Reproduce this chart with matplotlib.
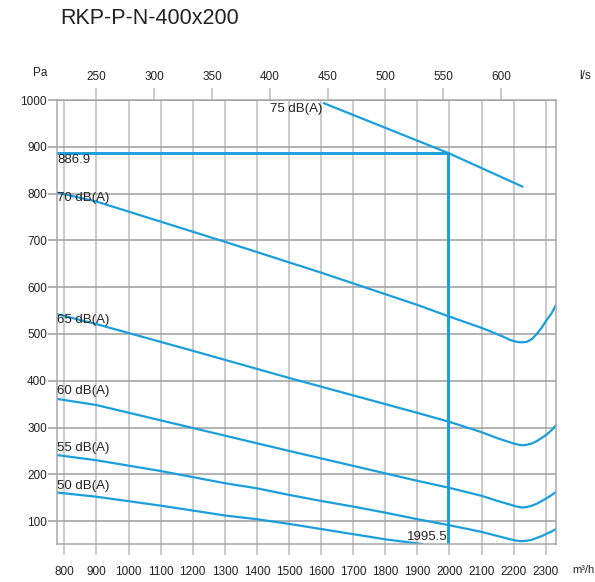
import matplotlib
matplotlib.use('Agg')
from matplotlib import pyplot as plt

plt.rcParams['font.family'] = ['Liberation Sans', 'DejaVu Sans']

# (flow in m3/h, pressure in Pa)
flow_75 = [1609, 1995.5, 2227]
p_75 = [993, 886.9, 815]

flow_70 = [778, 900, 1300, 1600, 1900, 2000, 2100, 2168, 2189, 2210, 2225, 2241,
           2257, 2272, 2288, 2303, 2319, 2332]
p_70 = [802, 783, 697, 631, 562, 537, 513, 494, 487, 483, 482, 483,
        489, 500, 514, 530, 545, 562]

flow_65 = [778, 900, 1200, 1500, 1800, 1907, 2000, 2100, 2150, 2190, 2210, 2225,
           2241, 2257, 2272, 2288, 2303, 2319, 2332]
p_65 = [542, 521, 464, 406, 350, 330, 312, 290, 277, 268, 264, 262,
        263, 266, 271, 278, 285, 295, 305]

flow_60 = [778, 900, 1200, 1359, 1500, 1600, 1700, 1800, 1900, 2000, 2100, 2150,
           2190, 2210, 2225, 2241, 2257, 2272, 2288, 2303, 2319, 2332]
p_60 = [361, 348, 299, 273, 250, 234, 218, 202, 186, 171, 154, 143,
        135, 131, 129, 130, 133, 137, 143, 149, 156, 162]

flow_55 = [778, 900, 1100, 1300, 1400, 1500, 1600, 1700, 1800, 1900, 2000, 2100,
           2150, 2190, 2210, 2225, 2241, 2257, 2272, 2288, 2303, 2319, 2332]
p_55 = [241, 230, 207, 181, 170, 156, 143, 131, 118, 104, 91, 77,
        68, 61, 58, 57, 58, 60, 64, 68, 73, 78, 83]

flow_50 = [778, 900, 1100, 1300, 1400, 1500, 1600, 1700, 1800, 1914]
p_50 = [161, 152, 133, 112, 104, 94, 83, 72, 61, 51]

op_flow = 1995.5
op_p = 886.9

labels = ['70 dB(A)', '65 dB(A)', '60 dB(A)', '55 dB(A)', '50 dB(A)']
label_y = [790, 530, 378, 257, 175]

m3h_ticks = list(range(800, 2301, 100))
ls_ticks = list(range(250, 601, 50))
pa_ticks = list(range(100, 1001, 100))

blue = '#1a9fdc'
text_c = '#222222'

fig = plt.figure(figsize=(5.95, 5.82), dpi=100)
ax = fig.add_axes([57.3 / 595, 1 - 544 / 582, (555.7 - 57.3) / 595, (544 - 100) / 582])

ax.set_xlim(778, 2331)
ax.set_ylim(51, 1000)
ax.set_xticks(m3h_ticks)
ax.set_yticks(pa_ticks)
ax.xaxis.grid(True, color='#bdbdbd', lw=1.1)
ax.yaxis.grid(True, color='#9e9e9e', lw=1.1)
ax.set_axisbelow(True)
for s in ax.spines.values():
    s.set_color('#a8a8a8')
    s.set_linewidth(1.1)

ax.tick_params(axis='x', length=8, width=1.1, color='#bdbdbd', pad=8,
               labelsize=8.5, labelcolor=text_c)
ax.tick_params(axis='y', length=6.5, width=1.1, color='#9e9e9e', pad=1,
               labelsize=8.5, labelcolor=text_c)

sec = ax.secondary_xaxis('top', functions=(lambda v: v / 3.6, lambda v: v * 3.6))
sec.set_xticks(ls_ticks)
sec.tick_params(length=8.5, width=1.1, color='#bdbdbd', pad=3.5,
                labelsize=8.5, labelcolor=text_c)
sec.spines['top'].set_color('#a8a8a8')

# curves
ax.plot(flow_75, p_75, color=blue, lw=1.6)
ax.plot(flow_70, p_70, color=blue, lw=1.6)
ax.plot(flow_65, p_65, color=blue, lw=1.6)
ax.plot(flow_60, p_60, color=blue, lw=1.6)
ax.plot(flow_55, p_55, color=blue, lw=1.6)
ax.plot(flow_50, p_50, color=blue, lw=1.6)

# operating point
ax.plot([778, op_flow], [op_p, op_p], color=blue, lw=2.1)
ax.plot([op_flow, op_flow], [op_p, 51], color=blue, lw=2.1)

for lab, yy in zip(labels, label_y):
    ax.text(778, yy, lab, ha='left', va='center', fontsize=9.5, color=text_c)
ax.text(1603, 980, '75 dB(A)', ha='right', va='center', fontsize=9.5, color=text_c)
ax.text(778, 872, f'{op_p}', ha='left', va='center', fontsize=9.5, color=text_c)
ax.text(op_flow, 67, f'{op_flow}', ha='right', va='center', fontsize=9.5, color=text_c)

fig.text(60 / 595, 1 - 18 / 582, 'RKP-P-N-400x200', ha='left', va='center',
         fontsize=15.5, color=text_c)
fig.text(40 / 595, 1 - 73 / 582, 'Pa', ha='center', va='center', fontsize=8.5, color=text_c)
fig.text(585 / 595, 1 - 76 / 582, 'l/s', ha='center', va='center', fontsize=8.5, color=text_c)
fig.text(583 / 595, 1 - 570 / 582, 'm³/h', ha='center', va='center', fontsize=8, color=text_c)

fig.savefig('out.png', dpi=100)
